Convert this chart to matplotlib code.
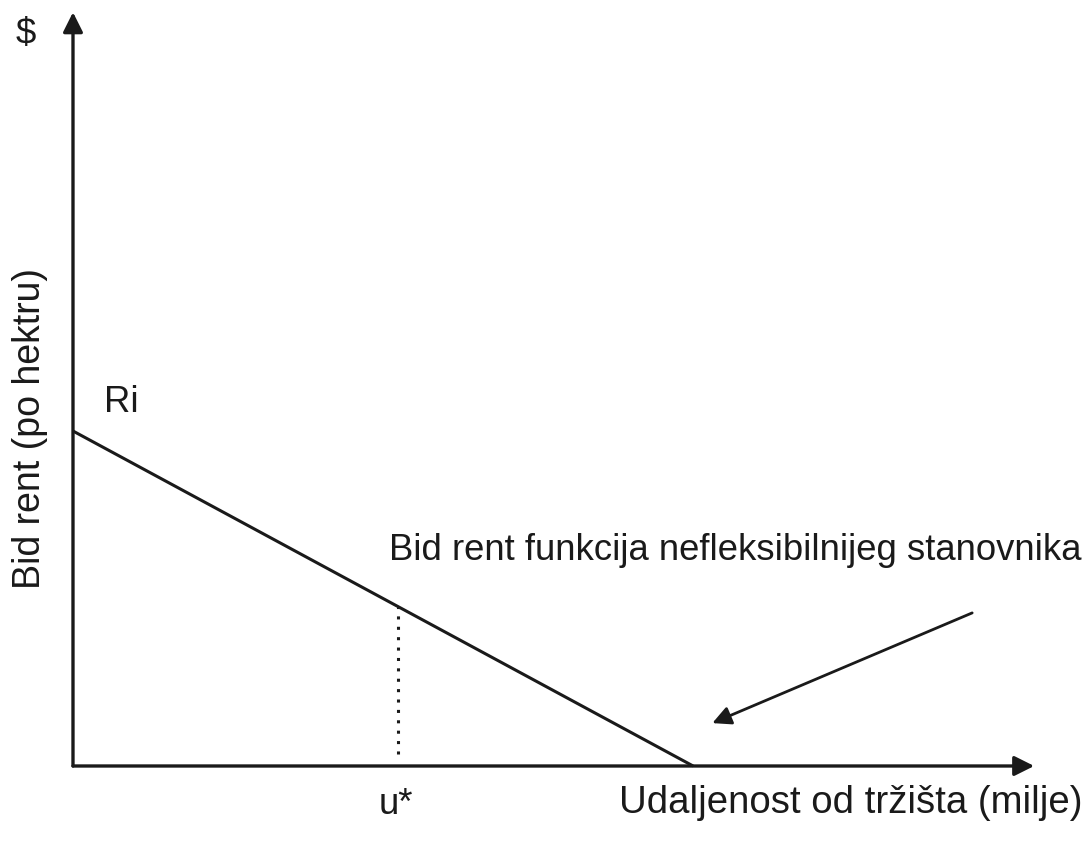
import matplotlib.pyplot as plt
import numpy as np

plt.rcParams['font.family'] = ['Liberation Sans', 'DejaVu Sans']

# bid rent line: intercept Ri at distance 0, falls to zero at x_zero
ri = 10.0
x_zero = 10.0
u_star = 5.24
x_max = 15.5
y_max = 22.5

dist = np.array([0.0, x_zero])
rent = np.array([ri, 0.0])
rent_u = ri * (1 - u_star / x_zero)

fig = plt.figure(figsize=(10.9, 8.41), dpi=100)
ax = fig.add_axes([0, 0, 1, 1])
ax.set_xlim(-1.177, 16.4)
ax.set_ylim(-2.239, 22.866)
ax.axis('off')

ink = '#1a1a1a'
head = dict(arrowstyle='-|>', color=ink, lw=2.4, mutation_scale=30,
            shrinkA=0, shrinkB=0)
# axes
ax.annotate('', xy=(0, y_max), xytext=(0, 0), arrowprops=head)
ax.annotate('', xy=(x_max, 0), xytext=(0, 0), arrowprops=head)

ax.plot(dist, rent, color=ink, lw=2.2, solid_capstyle='butt')
ax.plot([u_star, u_star], [0.35, rent_u], color=ink, lw=2.2,
        linestyle=(0, (1, 2.4)))

# pointer arrow to the line
ax.annotate('', xy=(10.31, 1.28), xytext=(14.5, 4.57),
            arrowprops=dict(arrowstyle='-|>', color=ink, lw=2.0,
                            mutation_scale=28, shrinkA=0, shrinkB=0))

fs = 26.3
ax.text(-0.76, 21.85, '$', fontsize=fs, ha='center', va='center', color=ink)
ax.text(0.5, 10.84, 'Ri', fontsize=fs, ha='left', va='center', color=ink)
ax.text(-0.69, 10.06, 'Bid rent (po hektru)', fontsize=27, rotation=90,
        ha='center', va='center', color=ink)
ax.text(5.1, 6.42, 'Bid rent funkcija nefleksibilnijeg stanovnika',
        fontsize=fs, ha='left', va='center', color=ink)
ax.text(5.2, -1.15, 'u*', fontsize=fs, ha='center', va='center', color=ink)
ax.text(8.8, -1.1, 'Udaljenost od tržišta (milje)', fontsize=27.6,
        ha='left', va='center', color=ink)

fig.savefig('out.png', dpi=100)
